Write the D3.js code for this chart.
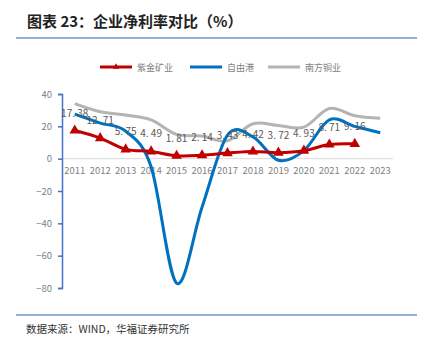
<!DOCTYPE html>
<html>
<head>
<meta charset="utf-8" />
<title>企业净利率对比</title>
<style>
  body { margin: 0; background: #fff; }
  text { font-family: "Noto Sans CJK SC", "Noto Sans", sans-serif; }
</style>
</head>
<body>
<div id="chart"></div>
<script src="https://d3js.org/d3.v7.min.js"></script>
<script>
// data
const years = ["2011", "2012", "2013", "2014", "2015", "2016", "2017", "2018", "2019", "2020", "2021", "2022", "2023"];
const zijin = [17.38, 12.71, 5.75, 4.49, 1.81, 2.14, 3.43, 4.42, 3.72, 4.93, 8.71, 9.16];
const freeport = [27.5, 22, 17, -5, -77, -30, 14.5, 13.5, -1, 5, 24, 20, 16];
const southern = [34, 29, 27, 24, 15, 14, 11, 21.6, 20.5, 19.5, 31, 26.5, 25];
const yTicks = [40, 20, 0, -20, -40, -60, -80];
const seriesNames = ["紫金矿业", "自由港", "南方铜业"];

const W = 433, H = 351;
const svg = d3.select("#chart").append("svg")
  .attr("width", W)
  .attr("height", H);

// title + rules
svg.append("text")
  .attr("x", 27)
  .attr("y", 27)
  .attr("font-size", 15)
  .attr("font-weight", "bold")
  .attr("fill", "#222")
  .text("图表 23：企业净利率对比（%）");

svg.append("line")
  .attr("x1", 16).attr("x2", 417)
  .attr("y1", 38).attr("y2", 38)
  .attr("stroke", "#6f97cf").attr("stroke-width", 1.5);

svg.append("line")
  .attr("x1", 16).attr("x2", 417)
  .attr("y1", 315).attr("y2", 315)
  .attr("stroke", "#6f97cf").attr("stroke-width", 1.5);

svg.append("text")
  .attr("x", 26)
  .attr("y", 333)
  .attr("font-size", 10.5)
  .attr("fill", "#333")
  .text("数据来源：WIND，华福证券研究所");

// scales
const x = d3.scaleBand().domain(years).range([62, 393]);
const y = d3.scaleLinear().domain([-80, 40]).range([288, 94]);
const cx = d => x(d) + x.bandwidth() / 2;

// zero line
svg.append("line")
  .attr("x1", 62).attr("x2", 393)
  .attr("y1", y(0)).attr("y2", y(0))
  .attr("stroke", "#d9d9d9").attr("stroke-width", 1);

// y axis
const yAxis = svg.append("g")
  .attr("transform", "translate(62,0)")
  .call(d3.axisLeft(y).tickValues(yTicks).tickSize(4).tickPadding(6).tickFormat(d => d < 0 ? "−" + Math.abs(d) : d));
yAxis.select(".domain").attr("stroke", "#4472c4").attr("stroke-width", 1.5);
yAxis.selectAll(".tick line").attr("stroke", "#4472c4").attr("stroke-width", 1.5);
yAxis.selectAll("text").attr("fill", "#7f7f7f").attr("font-size", 9.5).attr("font-family", "'Noto Sans CJK SC', sans-serif");

// x labels
svg.append("g")
  .selectAll("text")
  .data(years)
  .join("text")
  .attr("x", d => cx(d))
  .attr("y", y(0) + 15)
  .attr("text-anchor", "middle")
  .attr("font-size", 9.5)
  .attr("fill", "#7f7f7f")
  .text(d => d);

const line = d3.line()
  .x((d, i) => cx(years[i]))
  .y(d => y(d))
  .curve(d3.curveCatmullRom.alpha(0));

const colors = ["#c00000", "#0070c0", "#b4b4b4"];

svg.append("path").datum(southern)
  .attr("d", line).attr("fill", "none")
  .attr("stroke", colors[2]).attr("stroke-width", 3);

svg.append("path").datum(freeport)
  .attr("d", line).attr("fill", "none")
  .attr("stroke", colors[1]).attr("stroke-width", 3);

svg.append("path").datum(zijin)
  .attr("d", line).attr("fill", "none")
  .attr("stroke", colors[0]).attr("stroke-width", 3);

const tri = d3.symbol().type(d3.symbolTriangle).size(48);
svg.append("g")
  .selectAll("path")
  .data(zijin)
  .join("path")
  .attr("d", tri)
  .attr("transform", (d, i) => `translate(${cx(years[i])},${y(d)})`)
  .attr("fill", colors[0]);

// data labels
svg.append("g")
  .selectAll("text")
  .data(zijin)
  .join("text")
  .attr("x", (d, i) => cx(years[i]))
  .attr("y", d => y(d) - 14)
  .attr("text-anchor", "middle")
  .attr("font-size", 10)
  .attr("fill", "#595959")
  .text(d => d.toFixed(2).replace(".", ". "));

// legend
const legX = [100, 190, 268];
const leg = svg.append("g");
seriesNames.forEach((name, i) => {
  leg.append("line")
    .attr("x1", legX[i]).attr("x2", legX[i] + 32)
    .attr("y1", 67).attr("y2", 67)
    .attr("stroke", colors[i]).attr("stroke-width", 3);
  if (i === 0) {
    leg.append("path")
      .attr("d", d3.symbol().type(d3.symbolTriangle).size(18))
      .attr("transform", `translate(${legX[i] + 16},67)`)
      .attr("fill", colors[0]);
  }
  leg.append("text")
    .attr("x", legX[i] + 37)
    .attr("y", 70.5)
    .attr("font-size", 9)
    .attr("fill", "#7f7f7f")
    .text(name);
});
</script>
</body>
</html>
